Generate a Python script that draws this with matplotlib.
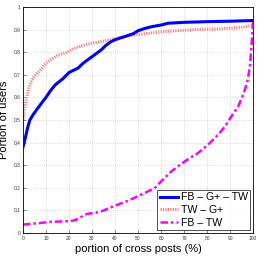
import matplotlib
matplotlib.use("Agg")
import matplotlib.pyplot as plt

x_blue = [0, 1, 2, 3, 4.5, 7, 10, 12, 14, 17.5, 20, 22, 24, 26, 28, 30, 32, 34, 36, 38, 40, 43, 46, 48, 50, 53, 56, 60, 63, 70, 80, 90, 100]
y_blue = [0.38, 0.42, 0.465, 0.5, 0.525, 0.56, 0.60, 0.63, 0.655, 0.684, 0.71, 0.72, 0.73, 0.75, 0.765, 0.78, 0.795, 0.81, 0.83, 0.845, 0.855, 0.865, 0.875, 0.882, 0.895, 0.905, 0.913, 0.92, 0.928, 0.932, 0.935, 0.937, 0.94]

x_red = [0, 0.5, 1, 1.6, 2.5, 3.8, 5.5, 7.4, 9.5, 11.7, 15, 19, 22, 26, 30, 33.5, 40, 45.8, 52, 60, 67, 74.6, 82, 89, 95, 98.5, 100]
y_red = [0.50, 0.54, 0.57, 0.60, 0.64, 0.677, 0.70, 0.72, 0.745, 0.765, 0.785, 0.80, 0.815, 0.83, 0.84, 0.846, 0.86, 0.873, 0.88, 0.89, 0.895, 0.90, 0.902, 0.905, 0.91, 0.916, 0.92]

x_mag = [0, 3, 7.4, 11.7, 19, 22, 24, 26, 27.7, 33.5, 39, 45.8, 52.9, 57.3, 60.1, 64.5, 70.3, 76.1, 80.4, 84.8, 87.7, 90.5, 93.5, 95, 96.4, 97.7, 98.6, 99.3, 100]
y_mag = [0.037, 0.04, 0.044, 0.049, 0.052, 0.055, 0.063, 0.075, 0.084, 0.093, 0.117, 0.143, 0.177, 0.199, 0.229, 0.273, 0.317, 0.354, 0.39, 0.435, 0.47, 0.515, 0.56, 0.595, 0.633, 0.68, 0.736, 0.824, 0.94]

labels = ["FB \u2013 G+ \u2013 TW", "TW \u2013 G+", "FB \u2013 TW"]
x_ticks = list(range(0, 101, 10))
y_ticks = [0, 0.1, 0.2, 0.3, 0.4, 0.5, 0.6, 0.7, 0.8, 0.9, 1]
y_ticklabels = ["0", "0.1", "0.2", "0.3", "0.4", "0.5", "0.6", "0.7", "0.8", "0.9", "1"]

plt.rcParams['font.family'] = ['Liberation Sans', 'DejaVu Sans']

fig = plt.figure(figsize=(2.58, 2.58), dpi=100)
ax = fig.add_axes([0.089, 0.097, 0.892, 0.876])

ax.plot(x_blue, y_blue, color='#0000ff', lw=2.2, linestyle='-', label=labels[0], zorder=3)
ax.plot(x_red, y_red, color='#ff8080', lw=2.2, linestyle=(0, (0.4, 0.4)), label=labels[1], zorder=2)
ax.plot(x_mag, y_mag, color='#ff00ff', lw=1.8, linestyle=(0, (3, 1.2, 1, 1.2)), label=labels[2], zorder=2)

ax.set_xlim(0, 100)
ax.set_ylim(0, 1)
ax.set_xticks(x_ticks)
ax.set_xticklabels([str(v) for v in x_ticks])
ax.set_yticks(y_ticks)
ax.set_yticklabels(y_ticklabels)
ax.tick_params(labelsize=3.5, length=2, width=0.4, direction='in', pad=2, colors='#333333')
ax.grid(True, linestyle=(0, (1, 2)), color='#bbbbbb', lw=0.5)
for s in ax.spines.values():
    s.set_linewidth(0.6)

ax.set_xlabel("portion of cross posts (%)", fontsize=8, labelpad=2)
ax.set_ylabel("Portion of users", fontsize=8, labelpad=3)

leg = ax.legend(loc='lower right', fontsize=7.6, frameon=True, fancybox=False,
                edgecolor='black', borderaxespad=0.25, handlelength=1.7,
                handletextpad=0.3, labelspacing=0.25, borderpad=0.25)
leg.get_frame().set_linewidth(0.6)

fig.savefig("out.png", dpi=100)
